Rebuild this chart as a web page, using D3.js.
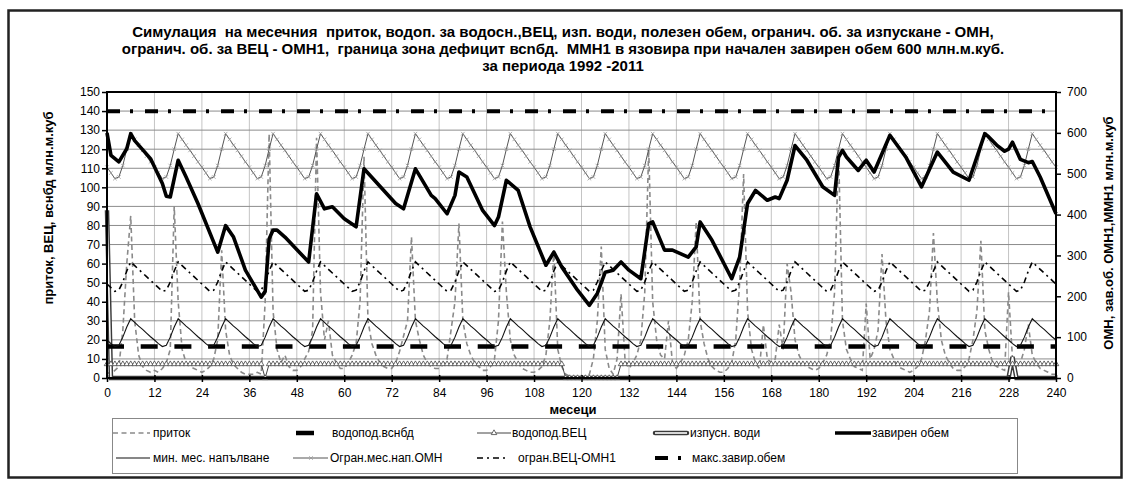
<!DOCTYPE html>
<html lang="bg">
<head>
<meta charset="UTF-8">
<title>Симулация ММН1</title>
<script src="https://d3js.org/d3.v7.min.js"></script>
<style>
    body {margin: 0; background: #fff;}
    svg {display: block;}
    text {font-family: Arial, "Liberation Sans", sans-serif; font-size: 12px; fill: #000;}
    .title {font-weight: bold; font-size: 15px; white-space: pre;}
    .axis-title {font-weight: bold; font-size: 13px;}
</style>
</head>
<body>
<script>
    const width = 1130;
    const height = 485;

    // months 0..240
    const months = d3.range(0, 241);

    // yearly profiles (12 months), mln m3, right axis
    const omnYear  = [516, 502, 488, 492, 520, 560, 598, 584, 570, 557, 543, 529];
    const mmnYear  = [ 93,  84,  77,  80, 100, 125, 145, 136, 127, 119, 110, 101];
    const omn1Year = [230, 221, 212, 215, 235, 262, 284, 275, 266, 257, 248, 239];

    // inflow, mln m3 per month (left axis), one row per year
    const inflow = [
        3, 2, 4, 6, 25, 60, 85, 30, 12, 6, 4, 3,
        4, 3, 5, 8, 15, 90, 40, 15, 8, 6, 5, 4,
        3, 4, 6, 10, 20, 67, 25, 12, 7, 5, 3, 2,
        2, 2, 3, 2, 40, 128, 35, 15, 8, 12, 6, 4,
        4, 6, 10, 14, 25, 126, 45, 20, 30, 12, 8, 5,
        5, 8, 12, 18, 40, 116, 30, 18, 12, 8, 6, 5,
        5, 8, 14, 22, 30, 74, 30, 20, 12, 8, 6, 5,
        5, 7, 10, 25, 40, 81, 30, 18, 12, 8, 6, 4,
        4, 6, 10, 30, 82, 45, 20, 12, 8, 5, 4, 3,
        3, 4, 6, 12, 30, 67, 15, 6, 2, 1, 0, 0,
        0, 1, 2, 10, 30, 69, 15, 5, 2, 10, 44, 10,
        5, 8, 12, 20, 45, 120, 40, 20, 12, 10, 30, 8,
        5, 8, 12, 20, 40, 82, 30, 18, 10, 6, 4, 3,
        3, 5, 8, 20, 50, 107, 35, 15, 8, 5, 28, 10,
        8, 10, 28, 15, 60, 45, 20, 12, 8, 6, 5, 4,
        5, 8, 12, 20, 45, 120, 30, 15, 10, 6, 5, 4,
        39, 10, 15, 25, 65, 30, 15, 10, 6, 5, 4, 3,
        4, 6, 10, 20, 35, 76, 40, 20, 12, 8, 5, 4,
        4, 6, 10, 20, 35, 72, 25, 15, 8, 6, 5, 4,
        45, 10, 5, 8, 15, 28, 12, 8, 5, 4, 3, 2,
        2
    ];

    // stored volume [month, mln m3] (right axis)
    const storage = [
        [0,600],[1,545],[3,529],[5,561],[6,598],[7,581],[11,537],[14,476],[15,445],[16,443],
        [18,533],[20,492],[23,427],[28,308],[30,373],[32,345],[35,264],[39,198],[40,212],[41,340],
        [42,362],[43,362],[45,345],[49,304],[51,284],[53,451],[55,414],[57,419],[60,390],[63,370],
        [65,512],[70,459],[73,427],[75,414],[78,512],[79,496],[82,447],[83,439],[86,402],[88,447],
        [89,504],[91,492],[95,410],[98,373],[99,394],[101,484],[104,459],[107,370],[111,276],[113,308],
        [115,272],[119,215],[122,178],[124,207],[126,259],[128,264],[130,284],[132,264],[135,243],[137,378],
        [138,382],[141,313],[143,313],[147,296],[149,321],[150,382],[153,337],[158,243],[160,296],[162,427],
        [164,459],[167,435],[169,443],[170,439],[172,484],[174,569],[177,533],[181,468],[184,447],[185,540],
        [186,557],[187,541],[190,508],[192,533],[194,504],[198,594],[202,541],[206,468],[210,553],[214,504],
        [218,484],[222,598],[223,590],[225,570],[227,555],[228,560],[229,577],[231,535],[233,527],[234,530],
        [236,492],[240,402]
    ];

    const vecLevel = 7.3;                               // водопод.ВЕЦ
    const vecOffMonths = [40, 116, 117, 118, 119, 120, 121, 122, 123, 124, 125, 126, 127, 128, 129];
    const supplyLevel = 16.5;                           // водопод.вснбд
    const maxStorage = 653;                             // макс.завир.обем
    const spillPeaks = {0: 88, 229: 11};                // изпусн. води

    const leftTicks = d3.range(0, 151, 10);
    const rightTicks = d3.range(0, 701, 100);
    const xTicks = d3.range(0, 241, 12);

    const titleLines = [
        "Симулация  на месечния  приток, водоп. за водосн.,ВЕЦ, изп. води, полезен обем, огранич. об. за изпускане - ОМН,",
        "огранич. об. за ВЕЦ - ОМН1,  граница зона дефицит всnбд.  ММН1 в язовира при начален завирен обем 600 млн.м.куб.",
        "за периода 1992 -2011"
    ];

    const svg = d3.select("body").append("svg")
            .attr("width", width).attr("height", height);

    const x  = d3.scaleLinear().domain([0, 240]).range([107, 1056]);
    const yL = d3.scaleLinear().domain([0, 150]).range([378, 92]);
    const yR = d3.scaleLinear().domain([0, 700]).range([378, 92]);

    svg.append("rect").attr("x", 0).attr("y", 0).attr("width", width).attr("height", height)
            .style("fill", "#fff");

    // chart frame
    svg.append("rect").attr("x", 8.5).attr("y", 10.5).attr("width", 1113).attr("height", 467)
            .style("fill", "none").style("stroke", "#222").style("stroke-width", 2.5);

    // title
    svg.selectAll("text.title").data(titleLines).enter().append("text")
            .attr("class", "title")
            .attr("x", 563).attr("y", (d, i) => 37 + i * 17)
            .attr("text-anchor", "middle")
            .text(d => d);

    // grid
    const grid = svg.append("g");
    grid.selectAll("line.v").data(xTicks.slice(1, -1)).enter().append("line")
            .attr("x1", d => x(d)).attr("x2", d => x(d))
            .attr("y1", yL(0)).attr("y2", yL(150))
            .style("stroke", "#c4c4c4").style("stroke-width", 1);
    grid.selectAll("line.h").data(leftTicks.slice(1, -1)).enter().append("line")
            .attr("x1", x(0)).attr("x2", x(240))
            .attr("y1", d => yL(d)).attr("y2", d => yL(d))
            .style("stroke", "#8c8c8c").style("stroke-width", 1);

    const lineL = d3.line().x((d, i) => x(i)).y(d => yL(d));
    const lineR = d3.line().x((d, i) => x(i)).y(d => yR(d));

    // приток
    svg.append("path").datum(inflow)
            .attr("d", lineL)
            .style("fill", "none").style("stroke", "#8a8a8a")
            .style("stroke-width", 1.6).style("stroke-dasharray", "5,3.5");

    // изпусн. води (double line)
    const spill = months.map(m => spillPeaks[m] || 0);
    svg.append("path").datum(spill).attr("d", lineL)
            .style("fill", "none").style("stroke", "#3a3a3a").style("stroke-width", 4.5);
    svg.append("path").datum(spill).attr("d", lineL)
            .style("fill", "none").style("stroke", "#fff").style("stroke-width", 1.6);

    // водопод.ВЕЦ
    const vec = months.map(m => vecOffMonths.includes(m) ? 0 : vecLevel);
    svg.append("path").datum(vec).attr("d", lineL)
            .style("fill", "none").style("stroke", "#444").style("stroke-width", 1);
    svg.selectAll("path.vec").data(vec).enter().append("path")
            .attr("class", "vec")
            .attr("transform", (d, i) => `translate(${x(i)},${yL(d)})`)
            .attr("d", d3.symbol(d3.symbolTriangle).size(13))
            .style("fill", "#fff").style("stroke", "#444").style("stroke-width", 0.8);

    // водопод.вснбд
    svg.append("path").datum(months.map(() => supplyLevel)).attr("d", lineL)
            .style("fill", "none").style("stroke", "#000")
            .style("stroke-width", 4.5).style("stroke-dasharray", "17,16.7");

    // мин. мес. напълване (ММН1)
    svg.append("path").datum(months.map(m => mmnYear[m % 12])).attr("d", lineR)
            .style("fill", "none").style("stroke", "#111").style("stroke-width", 1.1);

    // огран.ВЕЦ-ОМН1
    svg.append("path").datum(months.map(m => omn1Year[m % 12])).attr("d", lineR)
            .style("fill", "none").style("stroke", "#000")
            .style("stroke-width", 1.6).style("stroke-dasharray", "6,4,2,4");

    // Огран.мес.нап.ОМН
    const omn = months.map(m => omnYear[m % 12]);
    svg.append("path").datum(omn).attr("d", lineR)
            .style("fill", "none").style("stroke", "#555").style("stroke-width", 1);
    svg.selectAll("path.omn").data(omn).enter().append("path")
            .attr("class", "omn")
            .attr("transform", (d, i) => `translate(${x(i)},${yR(d)})`)
            .attr("d", d3.symbol(d3.symbolX).size(10))
            .style("fill", "none").style("stroke", "#999").style("stroke-width", 0.8);

    // макс.завир.обем
    svg.append("path").datum(months.map(() => maxStorage)).attr("d", lineR)
            .style("fill", "none").style("stroke", "#000")
            .style("stroke-width", 4).style("stroke-dasharray", "13,10,3,12");

    // завирен обем
    svg.append("path").datum(storage)
            .attr("d", d3.line().x(d => x(d[0])).y(d => yR(d[1])))
            .style("fill", "none").style("stroke", "#000").style("stroke-width", 3.6)
            .style("stroke-linejoin", "round");

    // plot border
    svg.append("rect").attr("x", x(0)).attr("y", yL(150))
            .attr("width", x(240) - x(0)).attr("height", yL(0) - yL(150))
            .style("fill", "none").style("stroke", "#000").style("stroke-width", 2);

    // axes
    const axL = svg.append("g").attr("transform", `translate(${x(0)},0)`)
            .call(d3.axisLeft(yL).tickValues(leftTicks).tickSize(5).tickPadding(2));
    const axR = svg.append("g").attr("transform", `translate(${x(240)},0)`)
            .call(d3.axisRight(yR).tickValues(rightTicks).tickSize(5).tickPadding(6));
    const axB = svg.append("g").attr("transform", `translate(0,${yL(0)})`)
            .call(d3.axisBottom(x).tickValues(xTicks).tickSize(4).tickPadding(6));
    [axL, axR, axB].forEach(a => {
        a.select(".domain").remove();
        a.selectAll(".tick line").style("stroke", "#000").style("stroke-width", 1.5);
        a.selectAll("text").style("font-size", "12px").style("font-family", "Arial, 'Liberation Sans', sans-serif");
    });
    axB.selectAll(".tick line").attr("y1", -3);

    svg.append("text").attr("class", "axis-title")
            .attr("transform", `translate(53,208) rotate(-90)`)
            .attr("text-anchor", "middle")
            .text("приток, ВЕЦ, вснбд млн.м.куб");
    svg.append("text").attr("class", "axis-title")
            .attr("transform", `translate(1113,233) rotate(-90)`)
            .attr("text-anchor", "middle")
            .text("ОМН, зав.об. ОМН1,ММН1 млн.м.куб");
    svg.append("text").attr("class", "axis-title")
            .attr("x", 573).attr("y", 414).attr("text-anchor", "middle")
            .text("месеци");

    // legend
    const lg = svg.append("g");
    lg.append("rect").attr("x", 112.5).attr("y", 418.5).attr("width", 905).attr("height", 55)
            .style("fill", "#fff").style("stroke", "#888").style("stroke-width", 1);

    const legendItems = [
        {name: "приток", col: 0, row: 0, tx: 153},
        {name: "водопод.вснбд", col: 1, row: 0, tx: 332},
        {name: "водопод.ВЕЦ", col: 2, row: 0, tx: 512},
        {name: "изпусн. води", col: 3, row: 0, tx: 690},
        {name: "завирен обем", col: 4, row: 0, tx: 872},
        {name: "мин. мес. напълване", col: 0, row: 1, tx: 153},
        {name: "Огран.мес.нап.ОМН", col: 1, row: 1, tx: 330},
        {name: "огран.ВЕЦ-ОМН1", col: 2, row: 1, tx: 518},
        {name: "макс.завир.обем", col: 3, row: 1, tx: 692}
    ];
    const rowY = [433, 458];
    const colX = [113, 293, 475, 655, 835];

    legendItems.forEach(d => {
        lg.append("text").attr("x", d.tx).attr("y", rowY[d.row] + 4).text(d.name);
    });

    function seg(x1, x2, y, style) {
        const l = lg.append("line").attr("x1", x1).attr("x2", x2).attr("y1", y).attr("y2", y);
        Object.entries(style).forEach(([k, v]) => l.style(k, v));
        return l;
    }
    // row 1
    seg(colX[0], colX[0] + 37, rowY[0], {"stroke": "#8a8a8a", "stroke-width": 1.6, "stroke-dasharray": "5,3.5"});
    seg(colX[1] + 3, colX[1] + 21, rowY[0], {"stroke": "#000", "stroke-width": 4.5});
    seg(colX[2] + 2, colX[2] + 36, rowY[0], {"stroke": "#444", "stroke-width": 1});
    lg.append("path").attr("transform", `translate(${colX[2] + 19},${rowY[0]})`)
            .attr("d", d3.symbol(d3.symbolTriangle).size(13))
            .style("fill", "#fff").style("stroke", "#444").style("stroke-width", 0.8);
    seg(colX[3], colX[3] + 32, rowY[0], {"stroke": "#3a3a3a", "stroke-width": 4.5, "stroke-linecap": "round"});
    seg(colX[3], colX[3] + 32, rowY[0], {"stroke": "#fff", "stroke-width": 1.6});
    seg(colX[4], colX[4] + 36, rowY[0], {"stroke": "#000", "stroke-width": 3.6});
    // row 2
    seg(colX[0] + 3, colX[0] + 37, rowY[1], {"stroke": "#111", "stroke-width": 1.1});
    seg(colX[1], colX[1] + 35, rowY[1], {"stroke": "#555", "stroke-width": 1});
    lg.append("path").attr("transform", `translate(${colX[1] + 18},${rowY[1]})`)
            .attr("d", d3.symbol(d3.symbolX).size(10))
            .style("fill", "none").style("stroke", "#999").style("stroke-width", 0.8);
    seg(colX[2] + 2, colX[2] + 30, rowY[1], {"stroke": "#000", "stroke-width": 1.6, "stroke-dasharray": "6,4,2,4"});
    seg(colX[3], colX[3] + 28, rowY[1], {"stroke": "#000", "stroke-width": 4, "stroke-dasharray": "13,10,3,12"});
</script>
</body>
</html>
